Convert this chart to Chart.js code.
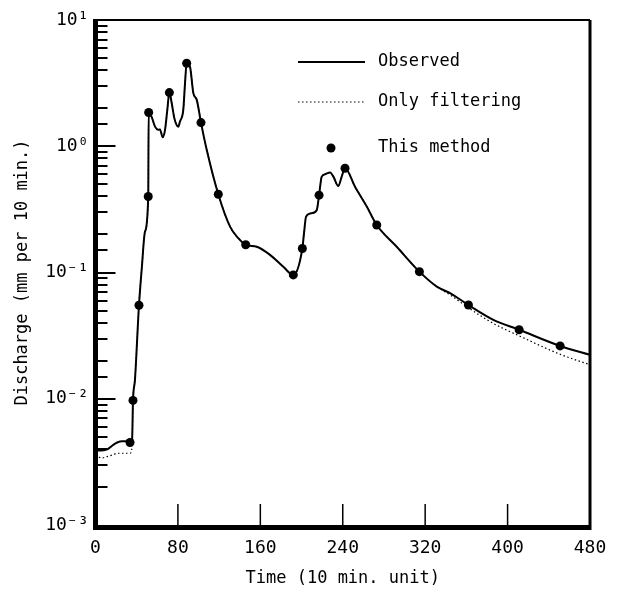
<!DOCTYPE html>
<html>
<head>
<meta charset="utf-8">
<title>Discharge hydrograph</title>
<script src="https://cdn.jsdelivr.net/npm/chart.js@4.4.1/dist/chart.umd.min.js"></script>
<style>
  html, body { margin: 0; padding: 0; background: #fff; }
  canvas { display: block; }
</style>
</head>
<body>
<canvas id="dischargeChart" width="620" height="590"></canvas>
<script>
'use strict';

// time in 10 min. units, discharge in mm per 10 min.
const times = [
  0, 6, 12, 17, 21, 26, 31, 33.5, 35.5, 36.4, 38.3, 42.2, 45, 48, 51.2, 51.6,
  54.6, 57.8, 61, 62.6, 65.2, 67.5, 69.7, 71.7, 74, 76.5, 78.8, 80.4, 82, 85.2,
  86.9, 88.5, 91.7, 95, 98.3, 102.4, 108, 119.2, 130.6, 138.6, 145.8, 156.5,
  169.4, 182.3, 192, 200.8, 202.4, 204.4, 209.9, 214.8, 217, 219.6, 222.8,
  227.7, 230.9, 235.7, 239, 242.2, 251.9, 263.3, 273, 292.4, 314.4, 331.3,
  344.2, 362, 386.2, 411.2, 451, 480
];

const observed = [
  0.0039, 0.0039, 0.0040, 0.0043, 0.0045, 0.0046, 0.0046, 0.0045, 0.0047, 0.0097, 0.0141, 0.055, 0.11, 0.21, 0.40, 1.85,
  1.70, 1.43, 1.35, 1.36, 1.18, 1.35, 1.94, 2.66, 2.19, 1.67, 1.47, 1.43, 1.57, 1.94,
  3.16, 4.54, 4.27, 2.63, 2.33, 1.54, 0.935, 0.417, 0.231, 0.187, 0.166, 0.160,
  0.138, 0.111, 0.0957, 0.155, 0.205, 0.277, 0.295, 0.313, 0.41, 0.575, 0.60,
  0.62, 0.575, 0.485, 0.575, 0.67, 0.478, 0.333, 0.238, 0.160, 0.1016, 0.0773,
  0.0686, 0.0553, 0.0422, 0.0352, 0.0262, 0.0223
];

const filtered = [
  0.0036, 0.0034, 0.0035, 0.0036, 0.0037, 0.0037, 0.0037, 0.0037, 0.0042, 0.0097, 0.0141, 0.055, 0.11, 0.21, 0.40, 1.85,
  1.70, 1.43, 1.35, 1.36, 1.18, 1.35, 1.94, 2.66, 2.19, 1.67, 1.47, 1.43, 1.57, 1.94,
  3.16, 4.54, 4.27, 2.63, 2.33, 1.54, 0.935, 0.417, 0.231, 0.187, 0.166, 0.160,
  0.138, 0.111, 0.0957, 0.155, 0.205, 0.277, 0.295, 0.313, 0.41, 0.575, 0.60,
  0.62, 0.575, 0.485, 0.575, 0.67, 0.478, 0.333, 0.238, 0.160, 0.1016, 0.0773,
  0.0665, 0.0525, 0.0395, 0.0315, 0.0225, 0.0186
];

const methodTimes = [
  33.5, 36.4, 42.2, 51.2, 51.6, 71.7, 88.5, 102.4, 119.2, 145.8,
  192, 200.8, 217, 242.2, 273, 314.4, 362, 411.2, 451
];
const methodValues = [
  0.0045, 0.0097, 0.055, 0.40, 1.85, 2.66, 4.54, 1.54, 0.417, 0.166,
  0.0957, 0.155, 0.41, 0.67, 0.238, 0.1016, 0.0553, 0.0352, 0.0262
];

const xTickStep = 80;
const yDecadeLabels = { '-3': '10⁻³', '-2': '10⁻²', '-1': '10⁻¹', '0': '10⁰', '1': '10¹' };

const FONT = "'DejaVu Sans Mono', 'Liberation Mono', monospace";

const toPoints = (xs, ys) => xs.map((x, i) => ({ x: x, y: ys[i] }));

const isDecade = (v) => {
  const e = Math.log10(v);
  return Math.abs(e - Math.round(e)) < 1e-6;
};

// box, inward ticks and legend, all placed from the chart's own scales
const framePlugin = {
  id: 'frame',
  afterDraw(chart) {
    const { ctx, chartArea: a } = chart;
    const x = chart.scales.x;
    const y = chart.scales.y;
    ctx.save();
    ctx.strokeStyle = '#000';
    ctx.lineCap = 'butt';

    ctx.lineWidth = 1.5;
    x.ticks.forEach((t) => {
      if (t.value <= x.min || t.value >= x.max) return;
      const px = x.getPixelForValue(t.value);
      ctx.beginPath();
      ctx.moveTo(px, a.bottom);
      ctx.lineTo(px, a.bottom - 21);
      ctx.stroke();
    });

    ctx.lineWidth = 2;
    y.ticks.forEach((t) => {
      if (t.value <= y.min || t.value >= y.max) return;
      const py = Math.round(y.getPixelForValue(t.value));
      const len = isDecade(t.value) ? 20 : 12;
      ctx.beginPath();
      ctx.moveTo(a.left, py);
      ctx.lineTo(a.left + len, py);
      ctx.stroke();
    });

    ctx.lineWidth = 2;
    ctx.beginPath();
    ctx.moveTo(a.left, a.top);
    ctx.lineTo(a.right, a.top);
    ctx.stroke();
    ctx.lineWidth = 3;
    ctx.beginPath();
    ctx.moveTo(a.right, a.top);
    ctx.lineTo(a.right, a.bottom);
    ctx.stroke();
    ctx.lineWidth = 5;
    ctx.beginPath();
    ctx.moveTo(a.left, a.top - 1);
    ctx.lineTo(a.left, a.bottom + 2.5);
    ctx.lineTo(a.right + 1.5, a.bottom + 2.5);
    ctx.stroke();

    // legend
    const ds = chart.data.datasets;
    const rows = [
      { d: ds[1], yPos: 62 },
      { d: ds[0], yPos: 102 },
      { d: ds[2], yPos: 148 }
    ];
    ctx.font = '17px ' + FONT;
    ctx.fillStyle = '#000';
    ctx.textBaseline = 'middle';
    ctx.textAlign = 'left';
    rows.forEach((r) => {
      if (r.d.showLine === false) {
        ctx.beginPath();
        ctx.arc(331, r.yPos, r.d.pointRadius, 0, Math.PI * 2);
        ctx.fill();
      } else {
        ctx.lineWidth = r.d.borderWidth;
        ctx.setLineDash(r.d.borderDash || []);
        ctx.beginPath();
        ctx.moveTo(298, r.yPos);
        ctx.lineTo(365, r.yPos);
        ctx.stroke();
        ctx.setLineDash([]);
      }
      ctx.fillText(r.d.label, 378, r.yPos);
    });
    ctx.restore();
  }
};

const ctx = document.getElementById('dischargeChart').getContext('2d');

const dischargeChart = new Chart(ctx, {
  type: 'line',
  data: {
    datasets: [
      {
        label: 'Only filtering',
        data: toPoints(times, filtered),
        borderColor: '#000',
        borderWidth: 1.2,
        borderDash: [1.5, 2.5],
        pointRadius: 0,
        cubicInterpolationMode: 'monotone',
        order: 3
      },
      {
        label: 'Observed',
        data: toPoints(times, observed),
        borderColor: '#000',
        borderWidth: 2,
        pointRadius: 0,
        cubicInterpolationMode: 'monotone',
        order: 2
      },
      {
        label: 'This method',
        data: toPoints(methodTimes, methodValues),
        showLine: false,
        pointRadius: 4.5,
        pointBackgroundColor: '#000',
        pointBorderWidth: 0,
        order: 1
      }
    ]
  },
  options: {
    responsive: false,
    animation: false,
    layout: { padding: { top: 20, right: 30, left: 0, bottom: 0 } },
    plugins: {
      legend: { display: false },
      tooltip: { enabled: false }
    },
    scales: {
      x: {
        type: 'linear',
        min: 0,
        max: 480,
        grid: { display: false, drawTicks: false },
        border: { display: false },
        ticks: {
          stepSize: xTickStep,
          padding: 13,
          color: '#000',
          font: { family: FONT, size: 18 },
          maxRotation: 0
        },
        title: {
          display: true,
          text: 'Time (10 min. unit)',
          color: '#000',
          font: { family: FONT, size: 17 },
          padding: { top: 0, bottom: 1 }
        },
        afterFit: (scale) => { scale.height = 65; }
      },
      y: {
        type: 'logarithmic',
        min: 0.001,
        max: 10,
        grid: { display: false, drawTicks: false },
        border: { display: false },
        ticks: {
          autoSkip: false,
          padding: 7,
          color: '#000',
          font: { family: FONT, size: 18 },
          callback: (value) => {
            if (!isDecade(value)) return '';
            return yDecadeLabels[String(Math.round(Math.log10(value)))];
          }
        },
        title: {
          display: true,
          text: 'Discharge (mm per 10 min.)',
          color: '#000',
          font: { family: FONT, size: 17 },
          padding: { top: 12, bottom: 0 }
        },
        afterFit: (scale) => { scale.width = 95.5; }
      }
    }
  },
  plugins: [framePlugin]
});
</script>
</body>
</html>
